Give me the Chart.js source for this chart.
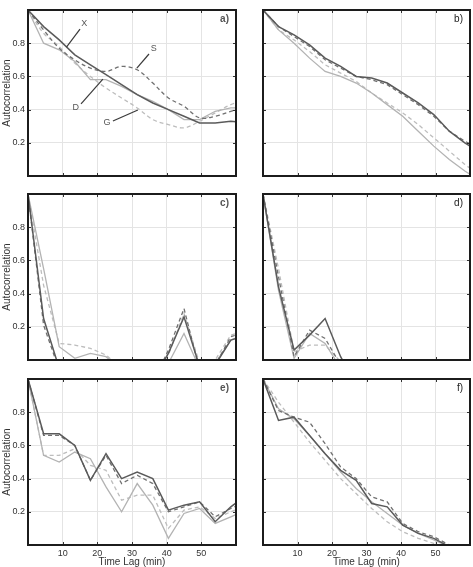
<!DOCTYPE html>
<html><head><meta charset="utf-8">
<script src="https://cdn.jsdelivr.net/npm/chart.js@4/dist/chart.umd.min.js"></script>
<style>
html,body{margin:0;padding:0;background:#fff;width:473px;height:567px;overflow:hidden;position:relative}
canvas{position:absolute}
</style>
</head><body>
<canvas id="pa"></canvas><canvas id="pb"></canvas>
<canvas id="pc"></canvas><canvas id="pd"></canvas>
<canvas id="pe"></canvas><canvas id="pf"></canvas>
<script>
// ---- data ----
const lags = [0, 4.5, 9, 13.5, 18, 22.5, 27, 31.5, 36, 40.5, 45, 49.5, 54, 58.5, 63];
const xTicks = [10, 20, 30, 40, 50];
const yTicks = [0.2, 0.4, 0.6, 0.8];
const seriesNames = ['X', 'S', 'D', 'G'];
const panelLabels = ['a)', 'b)', 'c)', 'd)', 'e)', 'f)'];
const xTitle = 'Time Lag (min)';
const yTitle = 'Autocorrelation';

const aX = [1.0, 0.90, 0.82, 0.73, 0.67, 0.61, 0.55, 0.49, 0.44, 0.40, 0.36, 0.32, 0.32, 0.33, 0.32];
const aS = [1.0, 0.88, 0.77, 0.70, 0.65, 0.63, 0.66, 0.64, 0.56, 0.47, 0.42, 0.35, 0.36, 0.39, 0.42];
const aD = [1.0, 0.80, 0.76, 0.69, 0.58, 0.58, 0.54, 0.49, 0.45, 0.40, 0.34, 0.34, 0.39, 0.41, 0.41];
const aG = [1.0, 0.86, 0.78, 0.68, 0.60, 0.53, 0.47, 0.41, 0.34, 0.31, 0.29, 0.33, 0.38, 0.43, 0.46];

const bX = [1.0, 0.90, 0.85, 0.79, 0.71, 0.66, 0.60, 0.59, 0.56, 0.50, 0.44, 0.37, 0.27, 0.20, 0.14];
const bS = [1.0, 0.90, 0.84, 0.78, 0.70, 0.65, 0.60, 0.58, 0.55, 0.49, 0.43, 0.36, 0.27, 0.21, 0.16];
const bD = [1.0, 0.88, 0.80, 0.71, 0.63, 0.60, 0.56, 0.50, 0.43, 0.36, 0.27, 0.18, 0.10, 0.03, -0.03];
const bG = [1.0, 0.88, 0.82, 0.75, 0.67, 0.62, 0.57, 0.50, 0.44, 0.38, 0.31, 0.23, 0.15, 0.07, 0.0];

const cX = [1.0, 0.25, -0.05, -0.10, -0.10, -0.10, -0.10, -0.10, -0.12, 0.04, 0.26, -0.04, -0.03, 0.12, 0.15];
const cS = [1.0, 0.21, -0.06, -0.10, -0.10, -0.10, -0.10, -0.10, -0.14, 0.06, 0.31, -0.06, -0.03, 0.14, 0.17];
const cD = [1.0, 0.55, 0.08, 0.01, 0.04, 0.02, -0.06, -0.10, -0.10, -0.02, 0.16, -0.05, -0.02, 0.12, 0.16];
const cG = [1.0, 0.45, 0.10, 0.09, 0.07, 0.03, -0.05, -0.08, -0.08, 0.03, 0.28, -0.02, 0.0, 0.15, 0.18];

const dX = [1.0, 0.44, 0.06, 0.15, 0.25, 0.02, -0.15, -0.15, -0.15, -0.15, -0.15, -0.15, -0.15, -0.15, -0.15];
const dS = [1.0, 0.50, 0.02, 0.18, 0.13, -0.03, -0.12, -0.12, -0.12, -0.12, -0.12, -0.12, -0.12, -0.12, -0.12];
const dD = [1.0, 0.42, 0.01, 0.16, 0.10, -0.05, -0.12, -0.12, -0.12, -0.12, -0.12, -0.12, -0.12, -0.12, -0.12];
const dG = [1.0, 0.55, 0.05, 0.09, 0.09, -0.01, -0.10, -0.10, -0.10, -0.10, -0.10, -0.10, -0.10, -0.10, -0.10];

const eX = [1.0, 0.67, 0.67, 0.60, 0.39, 0.55, 0.40, 0.44, 0.40, 0.21, 0.24, 0.26, 0.14, 0.23, 0.30];
const eS = [1.0, 0.66, 0.66, 0.60, 0.39, 0.54, 0.37, 0.42, 0.37, 0.20, 0.23, 0.26, 0.17, 0.22, 0.26];
const eD = [1.0, 0.54, 0.50, 0.56, 0.52, 0.35, 0.20, 0.37, 0.24, 0.04, 0.19, 0.22, 0.13, 0.17, 0.21];
const eG = [1.0, 0.54, 0.54, 0.58, 0.48, 0.45, 0.27, 0.30, 0.30, 0.10, 0.21, 0.23, 0.16, 0.20, 0.24];

const fX = [1.0, 0.75, 0.77, 0.66, 0.55, 0.45, 0.39, 0.25, 0.23, 0.12, 0.07, 0.04, -0.01, -0.05, -0.08];
const fS = [1.0, 0.81, 0.77, 0.74, 0.61, 0.47, 0.40, 0.29, 0.26, 0.13, 0.08, 0.05, 0.0, -0.04, -0.07];
const fD = [1.0, 0.82, 0.76, 0.66, 0.55, 0.44, 0.34, 0.26, 0.19, 0.12, 0.07, 0.03, -0.01, -0.04, -0.07];
const fG = [1.0, 0.86, 0.74, 0.62, 0.51, 0.40, 0.31, 0.22, 0.14, 0.08, 0.04, 0.01, -0.02, -0.05, -0.08];

// series labels drawn in panel a (text point, leader line start, leader line end) in data units
const annotations = [
  {text: 'X', tx: 16.2, ty: 0.92, x1: 15.0, y1: 0.885, x2: 11.1, y2: 0.777},
  {text: 'S', tx: 36.3, ty: 0.77, x1: 34.9, y1: 0.735, x2: 31.4, y2: 0.65},
  {text: 'D', tx: 13.8, ty: 0.41, x1: 15.3, y1: 0.434, x2: 21.6, y2: 0.584},
  {text: 'G', tx: 22.8, ty: 0.32, x1: 24.5, y1: 0.331, x2: 31.7, y2: 0.398}
];

// ---- styles ----
const FONT = '"Liberation Sans", Arial, sans-serif';
const styles = {
  X: {color: '#5a5a5a', dash: [], width: 1.5},
  S: {color: '#707070', dash: [4, 3], width: 1.3},
  D: {color: '#b3b3b3', dash: [], width: 1.3},
  G: {color: '#bdbdbd', dash: [4, 3], width: 1.3}
};

const panels = [
  {id: 'pa', label: panelLabels[0], series: [aX, aS, aD, aG], col: 0, row: 0, smooth: true, annot: true},
  {id: 'pb', label: panelLabels[1], series: [bX, bS, bD, bG], col: 1, row: 0},
  {id: 'pc', label: panelLabels[2], series: [cX, cS, cD, cG], col: 0, row: 1},
  {id: 'pd', label: panelLabels[3], series: [dX, dS, dD, dG], col: 1, row: 1},
  {id: 'pe', label: panelLabels[4], series: [eX, eS, eD, eG], col: 0, row: 2},
  {id: 'pf', label: panelLabels[5], series: [fX, fS, fD, fG], col: 1, row: 2}
];
const colGeom = [
  {left: 0, width: 240, yW: 28, padR: 4, labelFont: 'bold 10px ', labelColor: '#555'},
  {left: 240, width: 233, yW: 23, padR: 3, labelFont: '10px ', labelColor: '#222'}
];
const rowGeom = [
  {top: 0, height: 185, padT: 10, xH: 9},
  {top: 185, height: 185, padT: 9, xH: 10},
  {top: 370, height: 197, padT: 9, xH: 22}
];

const framePlugin = {
  id: 'frame',
  afterDraw(chart, args, opts) {
    const {ctx, chartArea: a} = chart;
    const xs = chart.scales.x, ys = chart.scales.y;
    ctx.save();
    // annotations
    if (opts.annot) {
      ctx.strokeStyle = '#3a3a3a';
      ctx.lineWidth = 1.2;
      ctx.fillStyle = '#555';
      ctx.font = '9px ' + FONT;
      ctx.textAlign = 'center';
      ctx.textBaseline = 'middle';
      annotations.forEach(an => {
        ctx.beginPath();
        ctx.moveTo(xs.getPixelForValue(an.x1), ys.getPixelForValue(an.y1));
        ctx.lineTo(xs.getPixelForValue(an.x2), ys.getPixelForValue(an.y2));
        ctx.stroke();
        ctx.fillText(an.text, xs.getPixelForValue(an.tx), ys.getPixelForValue(an.ty));
      });
    }
    // inward tick marks
    ctx.strokeStyle = '#333';
    ctx.lineWidth = 1;
    ctx.beginPath();
    xTicks.forEach(v => {
      const p = Math.round(xs.getPixelForValue(v)) + 0.5;
      ctx.moveTo(p, a.bottom); ctx.lineTo(p, a.bottom - 3);
      ctx.moveTo(p, a.top); ctx.lineTo(p, a.top + 3);
    });
    yTicks.forEach(v => {
      const p = Math.round(ys.getPixelForValue(v)) + 0.5;
      ctx.moveTo(a.left, p); ctx.lineTo(a.left + 3, p);
      ctx.moveTo(a.right, p); ctx.lineTo(a.right - 3, p);
    });
    ctx.stroke();
    // frame
    ctx.strokeStyle = '#1c1c1c';
    ctx.lineWidth = 2;
    ctx.strokeRect(a.left, a.top, a.right - a.left, a.bottom - a.top);
    // panel label
    ctx.fillStyle = opts.labelColor;
    ctx.font = opts.labelFont + FONT;
    ctx.textAlign = 'right';
    ctx.textBaseline = 'middle';
    ctx.fillText(opts.label, a.right - 7, a.top + 9);
    ctx.restore();
  }
};

panels.forEach(p => {
  const cg = colGeom[p.col], rg = rowGeom[p.row];
  const cv = document.getElementById(p.id);
  cv.width = cg.width; cv.height = rg.height;
  cv.style.left = cg.left + 'px'; cv.style.top = rg.top + 'px';
  cv.style.width = cg.width + 'px'; cv.style.height = rg.height + 'px';
  const showY = p.col === 0, showX = p.row === 2;
  const datasets = p.series.map((vals, i) => {
    const st = styles[seriesNames[i]];
    return {
      label: seriesNames[i],
      data: vals.map((v, k) => ({x: lags[k], y: v})),
      borderColor: st.color,
      borderDash: st.dash,
      borderWidth: st.width,
      pointRadius: 0,
      fill: false,
      tension: (p.smooth && (seriesNames[i] === 'S' || seriesNames[i] === 'G')) ? 0.35 : 0
    };
  });
  new Chart(cv, {
    type: 'line',
    data: {datasets},
    options: {
      responsive: false,
      animation: false,
      devicePixelRatio: 1,
      layout: {padding: {top: rg.padT, right: cg.padR, left: 0, bottom: 0}},
      plugins: {
        legend: {display: false},
        tooltip: {enabled: false},
        frame: {label: p.label, annot: !!p.annot, labelFont: cg.labelFont, labelColor: cg.labelColor}
      },
      scales: {
        x: {
          type: 'linear', min: 0, max: 60,
          afterBuildTicks: ax => { ax.ticks = xTicks.map(v => ({value: v})); },
          afterFit: ax => { ax.height = rg.xH; },
          grid: {color: '#e4e4e4', lineWidth: 1, drawTicks: false},
          border: {display: false},
          ticks: {display: showX, color: '#333', padding: 3, font: {family: FONT, size: 9}, maxRotation: 0},
          title: {display: showX, text: xTitle, color: '#333', padding: {top: 0, bottom: 0}, font: {family: FONT, size: 10, lineHeight: 1}}
        },
        y: {
          type: 'linear', min: 0, max: 1,
          afterBuildTicks: ax => { ax.ticks = yTicks.map(v => ({value: v})); },
          afterFit: ax => { ax.width = cg.yW; },
          grid: {color: '#e4e4e4', lineWidth: 1, drawTicks: false},
          border: {display: false},
          ticks: {display: showY, color: '#333', padding: 3, font: {family: FONT, size: 9}},
          title: {display: showY, text: yTitle, color: '#333', padding: {top: 1, bottom: 0}, font: {family: FONT, size: 10}}
        }
      }
    },
    plugins: [framePlugin]
  });
});
</script>
</body></html>
